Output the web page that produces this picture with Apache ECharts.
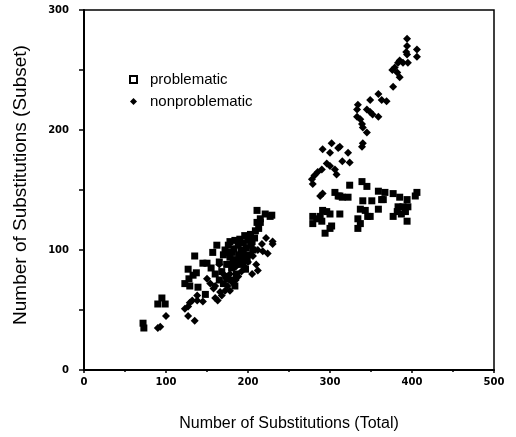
<!DOCTYPE html>
<html>
<head>
<meta charset="utf-8">
<script src="https://cdn.jsdelivr.net/npm/echarts@6/dist/echarts.min.js"></script>
<style>
  html, body { margin: 0; padding: 0; background: #fff; }
  #chart { width: 516px; height: 437px; }
</style>
</head>
<body>
<div id="chart"></div>
<script>
// axis setup
const xRange = [0, 500];
const yRange = [0, 300];
const seriesNames = ['problematic', 'nonproblematic'];

// [total, subset]
const problematic = [
  [72, 39], [73, 35], [90, 55], [95, 60], [99, 55],
  [123, 72], [127, 84], [128, 76], [129, 70], [133, 79], [135, 95], [137, 81],
  [139, 69], [145, 89], [148, 63], [150, 89], [155, 85], [157, 98], [160, 80],
  [162, 104], [165, 90], [165, 75], [168, 82], [170, 96], [170, 72], [172, 100],
  [173, 78], [174, 88], [175, 76], [176, 104], [177, 98], [178, 107], [178, 94],
  [180, 85], [180, 75], [181, 98], [182, 90], [183, 101], [184, 108], [184, 70],
  [185, 92], [186, 80], [188, 104], [188, 90], [189, 96], [190, 109], [191, 88],
  [192, 100], [193, 93], [194, 106], [195, 94], [196, 112], [197, 84], [198, 102],
  [199, 91], [200, 108], [201, 96], [203, 113], [204, 104], [205, 107], [206, 100],
  [208, 110], [209, 116], [211, 123], [211, 133], [213, 118], [215, 123], [215, 126],
  [221, 130], [227, 128], [229, 129],
  [279, 128], [279, 122], [284, 126], [288, 128], [290, 124], [291, 133], [294, 114],
  [296, 132], [300, 130], [300, 118], [302, 120], [306, 148], [310, 145], [312, 130],
  [312, 145], [315, 144], [322, 144], [324, 154], [334, 126], [334, 118], [337, 122],
  [337, 134], [339, 157], [340, 141], [343, 133], [345, 153], [346, 128], [349, 128],
  [351, 141], [359, 149], [359, 134], [363, 142], [365, 142], [367, 148], [377, 147],
  [377, 128], [382, 132], [383, 136], [385, 144], [387, 130], [389, 136], [392, 132],
  [394, 142], [394, 124], [395, 136], [404, 145], [406, 148]
];

const nonproblematic = [
  [90, 35], [93, 36], [100, 45], [123, 51], [127, 53], [127, 45], [129, 56],
  [132, 58], [135, 41], [138, 58], [138, 62], [145, 57], [150, 76], [154, 72],
  [158, 68], [160, 70], [160, 60], [163, 58], [165, 88], [166, 65], [168, 62],
  [170, 80], [172, 66], [175, 70], [178, 66], [178, 80], [182, 72], [185, 75],
  [185, 86], [188, 78], [190, 92], [192, 82], [195, 98], [196, 86], [200, 90],
  [205, 80], [206, 95], [210, 88], [212, 83], [212, 100], [217, 105], [218, 99],
  [222, 110], [224, 97], [230, 107], [230, 105],
  [278, 159], [279, 155], [281, 162], [285, 165], [288, 145], [290, 167], [291, 147],
  [291, 184], [296, 172], [300, 170], [300, 181], [302, 189], [306, 167], [308, 163],
  [310, 185], [312, 186], [315, 174], [322, 181], [324, 173], [333, 211], [333, 217],
  [334, 221], [337, 209], [339, 186], [340, 189], [339, 205], [340, 202], [345, 198],
  [345, 217], [349, 215], [349, 225], [352, 213], [359, 211], [359, 230], [363, 225],
  [369, 224], [376, 250], [377, 236], [379, 252], [382, 248], [383, 256], [385, 244],
  [385, 258], [389, 256], [393, 265], [394, 263], [394, 270], [394, 276], [395, 256],
  [406, 267], [406, 261]
];

const chart = echarts.init(document.getElementById('chart'), null, { renderer: 'canvas' });

const tickLabel = { color: '#000', fontFamily: 'DejaVu Sans', fontSize: 10, fontWeight: 'bold' };
const nameStyle = { color: '#000', fontFamily: 'Liberation Sans' };

chart.setOption({
  animation: false,
  backgroundColor: '#fff',
  grid: {
    left: 84, right: 22, top: 10, bottom: 65,
    show: true, borderColor: '#000', borderWidth: 1.5
  },
  legend: {
    orient: 'vertical',
    left: 124, top: 67,
    itemWidth: 7, itemHeight: 7, itemGap: 7,
    textStyle: { color: '#000', fontFamily: 'Liberation Sans', fontSize: 15, padding: [0, 0, 0, 8] },
    data: [
      { name: seriesNames[0], icon: 'rect', itemStyle: { color: '#fff', borderColor: '#000', borderWidth: 2 } },
      { name: seriesNames[1], icon: 'diamond', itemStyle: { color: '#000' } }
    ]
  },
  xAxis: {
    type: 'value', min: xRange[0], max: xRange[1], interval: 100,
    name: 'Number of Substitutions (Total)',
    nameLocation: 'middle', nameGap: 46,
    nameTextStyle: Object.assign({ fontSize: 16 }, nameStyle),
    axisLine: { lineStyle: { color: '#000', width: 2 } },
    axisTick: { length: 3, lineStyle: { color: '#000', width: 1.5 } },
    minorTick: { show: true, splitNumber: 2, length: 2, lineStyle: { color: '#000', width: 1.5 } },
    splitLine: { show: false },
    axisLabel: Object.assign({ margin: 7 }, tickLabel)
  },
  yAxis: {
    type: 'value', min: yRange[0], max: yRange[1], interval: 100,
    name: 'Number of Substitutions (Subset)',
    nameLocation: 'middle', nameGap: 54,
    nameTextStyle: Object.assign({ fontSize: 19, padding: [0, 0, 0, 10] }, nameStyle),
    axisLine: { lineStyle: { color: '#000', width: 2 } },
    axisTick: { length: 5, lineStyle: { color: '#000', width: 1.5 } },
    minorTick: { show: true, splitNumber: 2, length: 5, lineStyle: { color: '#000', width: 1.5 } },
    splitLine: { show: false },
    axisLabel: Object.assign({ margin: 15 }, tickLabel)
  },
  series: [
    {
      name: seriesNames[0], type: 'scatter', symbol: 'rect', symbolSize: 7,
      itemStyle: { color: '#000', opacity: 1 },
      data: problematic
    },
    {
      name: seriesNames[1], type: 'scatter', symbol: 'diamond', symbolSize: 8,
      itemStyle: { color: '#000', opacity: 1 },
      data: nonproblematic
    }
  ]
});
</script>
</body>
</html>
